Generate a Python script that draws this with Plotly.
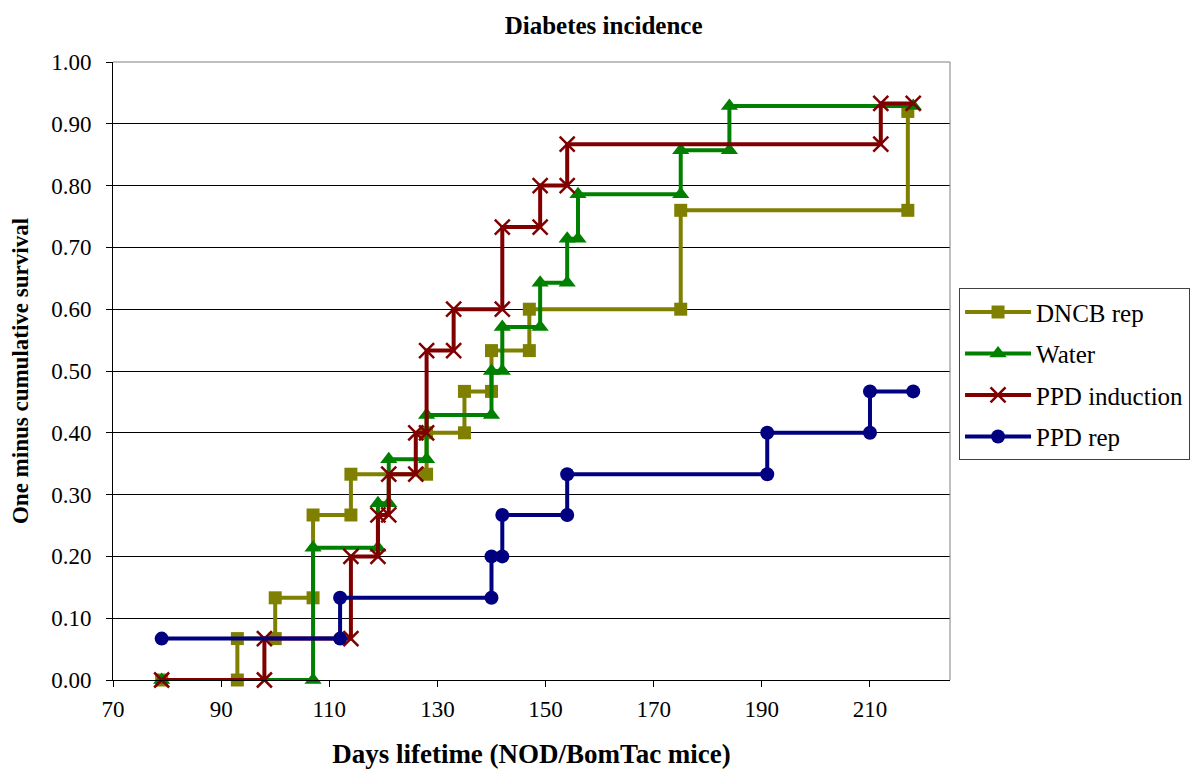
import plotly.graph_objects as go

# Step-curve vertices (both corners of each step carry a marker)
dncb_x = [79, 93, 93, 100, 100, 107, 107, 114, 114, 128, 128, 135, 135, 140, 140, 147, 147, 175, 175, 217, 217]
dncb_y = [0.0, 0.0, 0.067, 0.067, 0.133, 0.133, 0.267, 0.267, 0.333, 0.333, 0.40, 0.40, 0.467, 0.467, 0.533, 0.533, 0.60, 0.60, 0.76, 0.76, 0.92]

water_x = [79, 107, 107, 119, 119, 121, 121, 128, 128, 140, 140, 142, 142, 149, 149, 154, 154, 156, 156, 175, 175, 184, 184, 218]
water_y = [0.0, 0.0, 0.214, 0.214, 0.286, 0.286, 0.357, 0.357, 0.429, 0.429, 0.50, 0.50, 0.571, 0.571, 0.643, 0.643, 0.714, 0.714, 0.786, 0.786, 0.857, 0.857, 0.929, 0.929]

ppdi_x = [79, 98, 98, 114, 114, 119, 119, 121, 121, 126, 126, 128, 128, 133, 133, 142, 142, 149, 149, 154, 154, 212, 212, 218]
ppdi_y = [0.0, 0.0, 0.067, 0.067, 0.20, 0.20, 0.267, 0.267, 0.333, 0.333, 0.40, 0.40, 0.533, 0.533, 0.60, 0.60, 0.733, 0.733, 0.80, 0.80, 0.867, 0.867, 0.933, 0.933]

ppdr_x = [79, 112, 112, 140, 140, 142, 142, 154, 154, 191, 191, 210, 210, 218]
ppdr_y = [0.067, 0.067, 0.133, 0.133, 0.20, 0.20, 0.267, 0.267, 0.333, 0.333, 0.40, 0.40, 0.467, 0.467]

x_ticks = [70, 90, 110, 130, 150, 170, 190, 210]
y_ticks = [0.0, 0.1, 0.2, 0.3, 0.4, 0.5, 0.6, 0.7, 0.8, 0.9, 1.0]
y_tick_labels = ["0.00", "0.10", "0.20", "0.30", "0.40", "0.50", "0.60", "0.70", "0.80", "0.90", "1.00"]

FONT = "Liberation Serif"

series = [
    ("DNCB rep", dncb_x, dncb_y, "#808000", "square", 13),
    ("Water", water_x, water_y, "#008000", "triangle-up", 15),
    ("PPD induction", ppdi_x, ppdi_y, "#800000", "x-thin-open", 15),
    ("PPD rep", ppdr_x, ppdr_y, "#000080", "circle", 14),
]

fig = go.Figure()
for i, (name, xs, ys, col, sym, sz) in enumerate(series):
    marker = dict(symbol=sym, size=sz, color=col)
    if sym == "x-thin-open":
        marker["line"] = dict(color=col, width=2.5)
    else:
        marker["line"] = dict(width=0)
    fig.add_trace(go.Scatter(
        x=xs, y=ys, name=name, mode="lines+markers",
        line=dict(color=col, width=4),
        marker=marker,
        legendgroup=f"g{i}",
        cliponaxis=False,
    ))

# page body has an 8px default margin: the figure is sized to fit the window
fig.update_layout(
    width=1196, height=762,
    margin=dict(l=105, r=254, t=54, b=90, autoexpand=False),
    paper_bgcolor="white", plot_bgcolor="white",
    font=dict(family=FONT, color="black", size=20),
    title=dict(text="<b>Diabetes incidence</b>", x=0.498, xref="container",
               y=0.978, yref="container", xanchor="center", yanchor="middle",
               font=dict(family=FONT, size=25, color="black")),
    showlegend=True,
    legend=dict(x=1.0108, y=0.634, xanchor="left", yanchor="top",
                bordercolor="#404040", borderwidth=1, bgcolor="white",
                font=dict(family=FONT, size=25, color="black"),
                tracegroupgap=6, traceorder="grouped", itemwidth=66),
)

fig.update_xaxes(
    range=[70, 224.8], tickmode="array", tickvals=x_ticks,
    ticks="outside", ticklen=6, tickcolor="black", tickwidth=1,
    showline=True, linecolor="black", linewidth=1,
    showgrid=False, zeroline=False,
    ticklabelstandoff=2,
    tickfont=dict(family=FONT, size=23, color="black"),
    title=dict(text="<b>Days lifetime (NOD/BomTac mice)</b>",
               font=dict(family=FONT, size=27, color="black"), standoff=23),
)
fig.update_yaxes(
    range=[0, 1.0], tickmode="array", tickvals=y_ticks, ticktext=y_tick_labels,
    ticks="outside", ticklen=6, tickcolor="black", tickwidth=1,
    showline=True, linecolor="black", linewidth=1,
    showgrid=True, gridcolor="black", gridwidth=1,
    zeroline=False,
    ticklabelstandoff=10,
    tickfont=dict(family=FONT, size=23, color="black"),
    title=dict(text="<b>One minus cumulative survival</b>",
               font=dict(family=FONT, size=23, color="black"), standoff=24),
)

# plot-area border on top and right (gray)
fig.add_shape(type="line", xref="paper", yref="paper", x0=0, y0=1, x1=1, y1=1,
              line=dict(color="#808080", width=1), layer="above")
fig.add_shape(type="line", xref="paper", yref="paper", x0=1, y0=0, x1=1, y1=1,
              line=dict(color="#808080", width=1), layer="above")

fig.write_html("out.html")
